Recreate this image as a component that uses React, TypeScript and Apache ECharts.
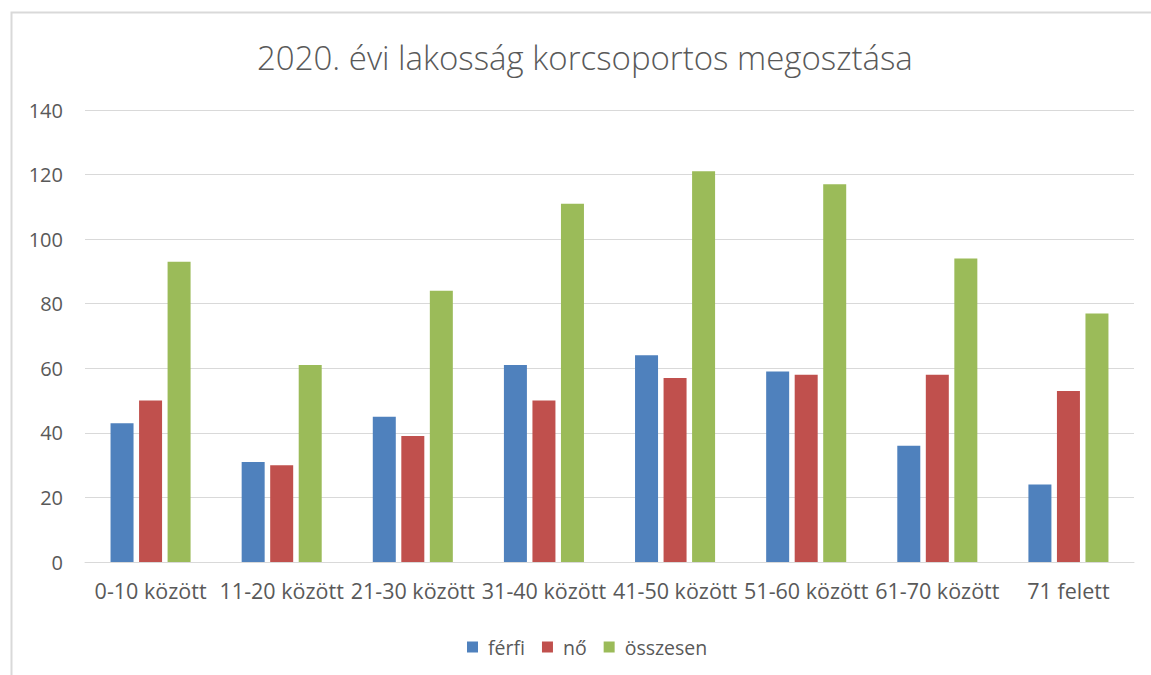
import React, { useEffect, useRef } from "react";
import * as echarts from "echarts";

const categories = [
  "0-10 között",
  "11-20 között",
  "21-30 között",
  "31-40 között",
  "41-50 között",
  "51-60 között",
  "61-70 között",
  "71 felett",
];
const ferfi = [43, 31, 45, 61, 64, 59, 36, 24];
const no = [50, 30, 39, 50, 57, 58, 58, 53];
const osszesen = [93, 61, 84, 111, 121, 117, 94, 77];
const seriesNames = ["férfi", "nő", "összesen"];
const colors = ["#4F81BD", "#C0504D", "#9BBB59"];

const FONT = "'Open Sans', 'Noto Sans', sans-serif";
const TEXT = "#595959";

export default function App() {
  const ref = useRef<HTMLDivElement>(null);
  useEffect(() => {
    if (!ref.current) return;
    const chart = echarts.init(ref.current, undefined, { renderer: "svg" });
    const data = [ferfi, no, osszesen];
    chart.setOption({
      animation: false,
      backgroundColor: "#ffffff",
      title: {
        text: "2020. évi lakosság korcsoportos megosztása",
        left: 252,
        top: 36,
        textStyle: {
          fontFamily: FONT,
          fontSize: 33,
          fontWeight: 300,
          color: TEXT,
        },
      },
      graphic: [
        {
          type: "rect",
          left: 9,
          top: 10,
          shape: { width: 1200, height: 700 },
          style: { fill: "none", stroke: "#D9D9D9", lineWidth: 2 },
          silent: true,
        },
      ],
      legend: {
        top: 632,
        left: 462,
        itemWidth: 11,
        itemHeight: 11,
        itemGap: 17,
        icon: "rect",
        textStyle: {
          fontFamily: FONT,
          fontSize: 19.5,
          color: TEXT,
          padding: [0, 0, 0, 5],
        },
        data: seriesNames,
      },
      grid: { left: 85, right: 17, top: 110, bottom: 113 },
      xAxis: {
        type: "category",
        data: categories,
        axisLine: { lineStyle: { color: "#D9D9D9", width: 1 } },
        axisTick: { show: false },
        axisLabel: {
          fontFamily: FONT,
          fontSize: 21.5,
          color: TEXT,
          margin: 17,
          interval: 0,
        },
      },
      yAxis: {
        type: "value",
        min: 0,
        max: 140,
        interval: 20,
        axisLine: { show: false },
        axisTick: { show: false },
        axisLabel: {
          fontFamily: FONT,
          fontSize: 20,
          color: TEXT,
          margin: 22,
        },
        splitLine: { lineStyle: { color: "#D9D9D9", width: 1 } },
      },
      series: seriesNames.map((name, i) => ({
        name,
        type: "bar",
        data: data[i],
        barWidth: 23,
        barGap: "24%",
        itemStyle: { color: colors[i] },
      })),
    });
    return () => chart.dispose();
  }, []);
  return (
    <div
      ref={ref}
      style={{ position: "fixed", left: 0, top: 0, width: 1151, height: 675 }}
    />
  );
}
